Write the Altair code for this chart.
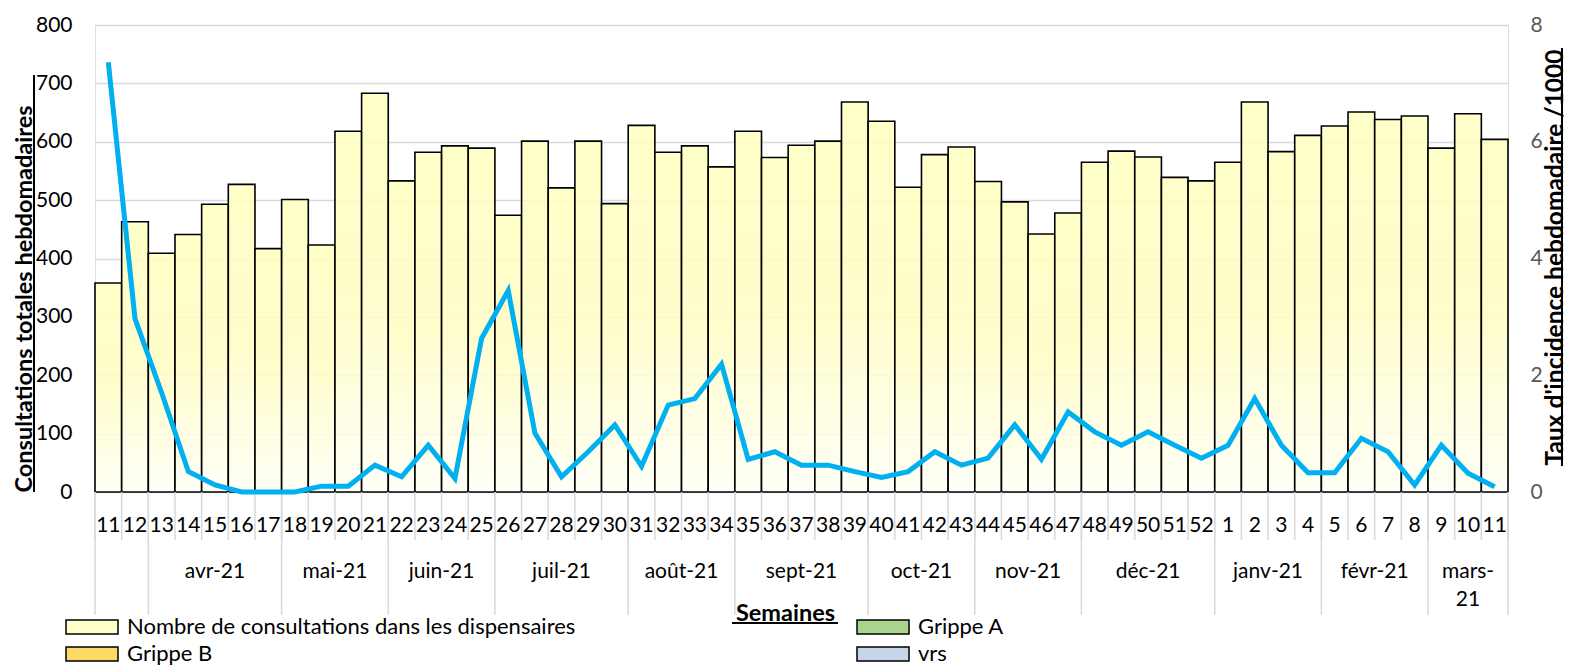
import altair as alt
import pandas as pd

# ---------------- data ----------------
weeks = [11, 12, 13, 14, 15, 16, 17, 18, 19, 20, 21, 22, 23, 24, 25, 26, 27, 28, 29, 30,
         31, 32, 33, 34, 35, 36, 37, 38, 39, 40, 41, 42, 43, 44, 45, 46, 47, 48, 49, 50,
         51, 52, 1, 2, 3, 4, 5, 6, 7, 8, 9, 10, 11]
consultations = [358, 463, 409, 441, 493, 527, 417, 501, 423, 618, 683, 533, 582, 593, 589,
                 474, 601, 521, 601, 494, 628, 582, 593, 557, 618, 573, 594, 601, 668, 635,
                 522, 578, 591, 532, 497, 442, 478, 565, 584, 574, 539, 533, 565, 668, 583,
                 611, 627, 651, 638, 644, 589, 648, 604]
incidence = [7.36, 2.97, 1.70, 0.35, 0.12, 0.00, 0.00, 0.00, 0.10, 0.10, 0.46, 0.26, 0.80,
             0.23, 2.63, 3.45, 1.01, 0.26, 0.69, 1.15, 0.44, 1.49, 1.60, 2.19, 0.56, 0.69,
             0.46, 0.46, 0.35, 0.25, 0.35, 0.69, 0.46, 0.58, 1.15, 0.56, 1.37, 1.03, 0.80,
             1.03, 0.80, 0.58, 0.80, 1.60, 0.80, 0.33, 0.33, 0.92, 0.69, 0.12, 0.80, 0.32, 0.09]
month_labels = ["", "avr-21", "mai-21", "juin-21", "juil-21", "août-21", "sept-21",
                "oct-21", "nov-21", "déc-21", "janv-21", "févr-21", "mars-21"]
month_week_counts = [2, 5, 4, 4, 5, 4, 5, 4, 4, 5, 4, 4, 3]
legend_names = ["Nombre de consultations dans les dispensaires", "Grippe A", "Grippe B", "vrs"]
legend_colors = ["#FFFFCC", "#A9D48C", "#FFD966", "#C6D5EA"]

FONT = "Lato"
TITLE_SIZE = 23.5
N = len(weeks)

df = pd.DataFrame({"idx": list(range(N)), "week": [str(w) for w in weeks],
                   "consultations": consultations, "incidence": incidence})

starts, s = [], 0
for c in month_week_counts:
    starts.append(s)
    s += c
months = pd.DataFrame({"month": month_labels, "start": starts, "count": month_week_counts})
bounds_w = pd.DataFrame({"b": list(range(N + 1))})
bounds_m = pd.DataFrame({"b": starts + [N]})
legend_df = pd.DataFrame({"series": legend_names, "nx": [None] * len(legend_names)})

x_scale = alt.Scale(domain=[0, N], nice=False, zero=False)
x_axis = alt.Axis(labels=False, ticks=False, domain=False, grid=False,
                  title="Semaines", titleFont=FONT, titleFontSize=TITLE_SIZE,
                  titleFontWeight="bold", titleColor="black", titleX=690, titleY=128,
                  titleAlign="center", titleBaseline="alphabetic")

left_axis = alt.Axis(values=list(range(0, 801, 100)), grid=True, gridColor="#D9D9D9",
                     gridWidth=1.5, domain=False, ticks=False, labelFont=FONT,
                     labelFontSize=21, labelColor="black", labelPadding=23,
                     title="Consultations totales hebdomadaires", titleFont=FONT,
                     titleFontSize=TITLE_SIZE, titleFontWeight="bold", titleColor="black",
                     titleAngle=270, titleX=-64, titleY=467, titleAlign="left",
                     titleBaseline="alphabetic")
right_axis = alt.Axis(orient="right", values=[0, 2, 4, 6, 8], grid=False, domain=False,
                      ticks=False, labelFont=FONT, labelFontSize=21, labelColor="#595959",
                      labelPadding=22, title="Taux d'incidence hebdomadaire /1000",
                      titleFont=FONT, titleFontSize=24.5, titleFontWeight="bold",
                      titleColor="black", titleAngle=270, titleX=54, titleY=232,
                      titleAlign="center", titleBaseline="alphabetic")

bar_fill = alt.Gradient(gradient="linear", x1=0, x2=0, y1=0, y2=1,
                        stops=[alt.GradientStop(color="#FFFFC2", offset=0),
                               alt.GradientStop(color="#FFFDC4", offset=0.5),
                               alt.GradientStop(color="#FFFFF6", offset=1)])

base = alt.Chart(df).transform_calculate(x0="datum.idx", x1="datum.idx + 1",
                                         xc="datum.idx + 0.5")

bars = base.mark_rect(fill=bar_fill, fillOpacity=0.88, stroke="black", strokeWidth=1.6).encode(
    x=alt.X("x0:Q", scale=x_scale, axis=x_axis),
    x2="x1:Q",
    y=alt.Y("consultations:Q", scale=alt.Scale(domain=[0, 800], nice=False), axis=left_axis),
    y2=alt.datum(0),
)

week_text = base.mark_text(font=FONT, fontSize=21, color="black", align="center",
                           baseline="middle").encode(
    x=alt.X("xc:Q", scale=x_scale, axis=x_axis), y=alt.value(501), text="week:N")

week_rules = alt.Chart(bounds_w).mark_rule(color="#D9D9D9", strokeWidth=1.5).encode(
    x=alt.X("b:Q", scale=x_scale, axis=x_axis), y=alt.value(467), y2=alt.value(515))

month_rules = alt.Chart(bounds_m).mark_rule(color="#D9D9D9", strokeWidth=1.5).encode(
    x=alt.X("b:Q", scale=x_scale, axis=x_axis), y=alt.value(467), y2=alt.value(590))

month_text = alt.Chart(months).transform_calculate(
    xm="datum.start + datum.count / 2",
    lab="replace(datum.month, 'mars-', 'mars-\\n')",
).mark_text(font=FONT, fontSize=21, color="black", align="center", baseline="middle",
            lineBreak="\n", lineHeight=28).encode(
    x=alt.X("xm:Q", scale=x_scale, axis=x_axis), y=alt.value(547), text="lab:N")

legend_layer = alt.Chart(legend_df).mark_bar().encode(
    x=alt.X("nx:Q", scale=x_scale, axis=x_axis),
    fill=alt.Fill("series:N", scale=alt.Scale(domain=legend_names, range=legend_colors),
                  legend=alt.Legend(orient="none", legendX=-33, legendY=591, columns=2,
                                    direction="horizontal", columnPadding=277,
                                    rowPadding=5, padding=0, title=None,
                                    symbolType="M-1,-1L6.43,-1L6.43,1L-1,1Z",
                                    symbolSize=196, symbolStrokeColor="black",
                                    symbolStrokeWidth=1.5, symbolOpacity=1,
                                    labelFont=FONT, labelFontSize=22, labelColor="black",
                                    labelLimit=800, labelOffset=43)),
)

underline_left = alt.Chart(df).mark_rule(color="black", strokeWidth=1.5).encode(
    x=alt.value(-61), y=alt.value(467), y2=alt.value(50))
underline_right = alt.Chart(df).mark_rule(color="black", strokeWidth=1.5).encode(
    x=alt.value(1467), y=alt.value(23), y2=alt.value(441))
underline_x = alt.Chart(df).mark_rule(color="black", strokeWidth=1.5).encode(
    x=alt.value(637), x2=alt.value(743), y=alt.value(598))

left = alt.layer(bars, week_rules, month_rules, week_text, month_text, legend_layer,
                 underline_left, underline_right, underline_x)

line = base.mark_line(color="#00B0F0", strokeWidth=5).encode(
    x=alt.X("xc:Q", scale=x_scale, axis=x_axis),
    y=alt.Y("incidence:Q", scale=alt.Scale(domain=[0, 8], nice=False), axis=right_axis),
)

chart = alt.layer(left, line).resolve_scale(y="independent").properties(
    width=1413, height=467,
    autosize=alt.AutoSizeParams(type="none"),
    padding={"left": 87, "top": 17, "right": 60, "bottom": 176},
).configure_view(stroke=None).configure(background="white")

chart.save("out.html", embed_options={"renderer": "svg", "actions": False})
